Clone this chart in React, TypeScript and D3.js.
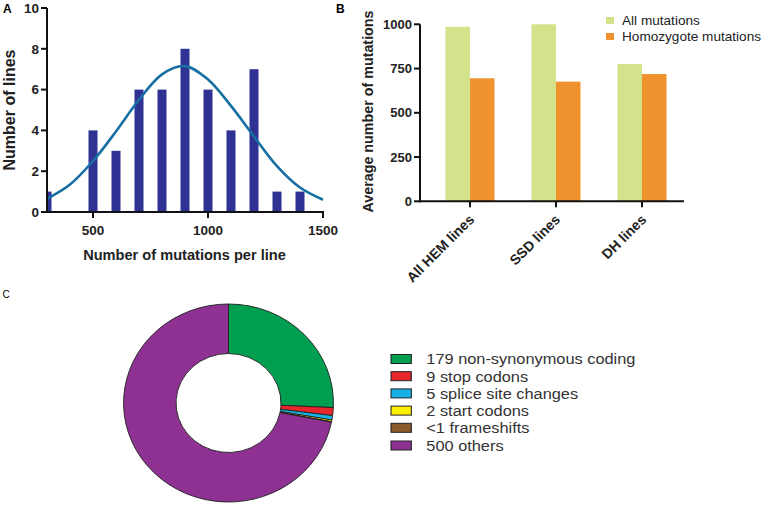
import React from "react";
import * as d3 from "d3";

// ---------- Panel A data ----------
const histBins: number[] = [300, 400, 500, 600, 700, 800, 900, 1000, 1100, 1200, 1300, 1400];
const histCounts: number[] = [1, 0, 4, 3, 6, 6, 8, 6, 4, 7, 1, 1];
const fitX: number[] = [300, 400, 500, 600, 700, 800, 900, 1000, 1100, 1200, 1300, 1400, 1500];
const fitY: number[] = [0.65, 1.35, 2.5, 3.95, 5.5, 6.75, 7.15, 6.5, 5.2, 3.7, 2.25, 1.2, 0.6];
const aYTicks: number[] = [0, 2, 4, 6, 8, 10];
const aXTicks: number[] = [500, 1000, 1500];

// ---------- Panel B data ----------
const bCategories: string[] = ["All HEM lines", "SSD lines", "DH lines"];
const bAllMutations: number[] = [986, 1000, 776];
const bHomozygote: number[] = [695, 676, 719];
const bSeries: string[] = ["All mutations", "Homozygote mutations"];
const bYTicks: number[] = [0, 250, 500, 750, 1000];

// ---------- Panel C data ----------
const cLabels: string[] = [
  "179 non-synonymous coding",
  "9 stop codons",
  "5 splice site changes",
  "2 start codons",
  "<1 frameshifts",
  "500 others",
];
const cValues: number[] = [179, 9, 5, 2, 0.5, 500];
const cColors: string[] = ["#009e4f", "#e8262b", "#17b1e6", "#fff200", "#8b5a2b", "#8e3192"];

const FONT = "Arial, 'Liberation Sans', Helvetica, sans-serif";

function PanelA() {
  const x = d3.scaleLinear().domain([300, 1500]).range([47, 323]);
  const y = d3.scaleLinear().domain([0, 10]).range([212, 8]);
  const barW = 9;
  const line = d3
    .line<number>()
    .x((_, i) => x(fitX[i]))
    .y((d) => y(d))
    .curve(d3.curveCatmullRom);
  return (
    <g>
      <defs>
        <clipPath id="clipA">
          <rect x={x(300)} y={0} width={x(1500) - x(300) + 5} height={y(0)} />
        </clipPath>
      </defs>
      <text x={3} y={13} fontFamily={FONT} fontWeight="bold" fontSize={12}>A</text>
      <g clipPath="url(#clipA)">
        {histBins.map((b, i) =>
          histCounts[i] > 0 ? (
            <rect
              key={b}
              x={x(b) - barW / 2}
              y={y(histCounts[i])}
              width={barW}
              height={y(0) - y(histCounts[i])}
              fill="#2f3193"
            />
          ) : null
        )}
      </g>
      <path d={line(fitY) || ""} fill="none" stroke="#176ea3" strokeWidth={2.6} />
      {/* axes */}
      <line x1={x(300)} x2={x(300)} y1={y(10)} y2={y(0) + 1} stroke="#111" strokeWidth={2} />
      <line x1={x(300) - 1} x2={x(1500) + 1} y1={y(0)} y2={y(0)} stroke="#111" strokeWidth={2} />
      {aYTicks.map((t) => (
        <g key={t}>
          <line x1={x(300) - 6} x2={x(300)} y1={y(t)} y2={y(t)} stroke="#111" strokeWidth={2} />
          <text
            x={x(300) - 8}
            y={y(t)}
            dy="0.36em"
            textAnchor="end"
            fontFamily={FONT}
            fontWeight="bold"
            fontSize={13.5}
            fill="#222"
          >
            {t}
          </text>
        </g>
      ))}
      {aXTicks.map((t) => (
        <g key={t}>
          <line x1={x(t)} x2={x(t)} y1={y(0)} y2={y(0) + 6} stroke="#111" strokeWidth={2} />
          <text
            x={x(t)}
            y={235}
            textAnchor="middle"
            fontFamily={FONT}
            fontWeight="bold"
            fontSize={13.5}
            fill="#222"
          >
            {t}
          </text>
        </g>
      ))}
      <text
        x={184.5}
        y={260}
        textAnchor="middle"
        fontFamily={FONT}
        fontWeight="bold"
        fontSize={14.6}
        fill="#222"
      >
        Number of mutations per line
      </text>
      <text
        transform={`translate(15,110) rotate(-90)`}
        textAnchor="middle"
        fontFamily={FONT}
        fontWeight="bold"
        fontSize={16}
        fill="#222"
      >
        Number of lines
      </text>
    </g>
  );
}

function PanelB() {
  const xb = d3.scaleBand<string>().domain(bCategories).range([427, 685]);
  const y = d3.scaleLinear().domain([0, 1000]).range([201.3, 24.3]);
  const half = 24.5;
  const colors = ["#d3e28b", "#f0932f"];
  return (
    <g>
      <text x={336} y={13} fontFamily={FONT} fontWeight="bold" fontSize={12}>B</text>
      {bCategories.map((c, i) => {
        const cx = (xb(c) || 0) + xb.bandwidth() / 2;
        return (
          <g key={c}>
            <rect x={cx - half} y={y(bAllMutations[i])} width={half} height={y(0) - y(bAllMutations[i])} fill={colors[0]} />
            <rect x={cx} y={y(bHomozygote[i])} width={half} height={y(0) - y(bHomozygote[i])} fill={colors[1]} />
            <line x1={cx} x2={cx} y1={y(0)} y2={y(0) + 6} stroke="#111" strokeWidth={2} />
            <text
              transform={`translate(${cx - 2},${y(0) + 12}) rotate(-45)`}
              textAnchor="end"
              dy="0.72em"
              fontFamily={FONT}
              fontWeight="bold"
              fontSize={14}
              fill="#222"
            >
              {c}
            </text>
          </g>
        );
      })}
      <line x1={420} x2={420} y1={y(1000)} y2={y(0) + 1} stroke="#111" strokeWidth={2} />
      <line x1={419} x2={684} y1={y(0)} y2={y(0)} stroke="#111" strokeWidth={2} />
      {bYTicks.map((t) => (
        <g key={t}>
          <line x1={414} x2={420} y1={y(t)} y2={y(t)} stroke="#111" strokeWidth={2} />
          <text
            x={412}
            y={y(t)}
            dy="0.36em"
            textAnchor="end"
            fontFamily={FONT}
            fontWeight="bold"
            fontSize={13}
            fill="#222"
          >
            {t}
          </text>
        </g>
      ))}
      <text
        transform={`translate(373,111.5) rotate(-90)`}
        textAnchor="middle"
        fontFamily={FONT}
        fontWeight="bold"
        fontSize={14.3}
        fill="#222"
      >
        Average number of mutations
      </text>
      {bSeries.map((s, i) => (
        <g key={s}>
          <rect x={606} y={17 + i * 16} width={8} height={7} fill={colors[i]} />
          <text x={622} y={24.5 + i * 16} fontFamily={FONT} fontSize={13.6} fill="#222">
            {s}
          </text>
        </g>
      ))}
    </g>
  );
}

function PanelC() {
  const pie = d3.pie<number>().sort(null).value((d) => d);
  const arcs = pie(cValues);
  const arc = d3.arc<d3.PieArcDatum<number>>().innerRadius(49.5).outerRadius(99);
  const rowY = [359, 376.2, 393.4, 410.6, 427.8, 445.5];
  return (
    <g>
      <text x={2.5} y={298} fontFamily={FONT} fontSize={10}>C</text>
      <g transform="translate(228.5,403) scale(1.06,1)">
        {arcs.map((a, i) => (
          <path key={i} d={arc(a) || ""} fill={cColors[i]} stroke="#222" strokeWidth={0.9} />
        ))}
      </g>
      <g transform="translate(391,0) scale(1.07,1)">
        {cLabels.map((l, i) => (
          <g key={l}>
            <rect x={0} y={rowY[i] - 4.5} width={19} height={9} fill={cColors[i]} stroke="#222" strokeWidth={1} />
            <text x={33} y={rowY[i] + 5.4} fontFamily={FONT} fontSize={15.3} fill="#333">
              {l}
            </text>
          </g>
        ))}
      </g>
    </g>
  );
}

export default function App() {
  return (
    <svg width={763} height={505} style={{ display: "block", position: "absolute", left: 0, top: 0, background: "#fff" }}>
      <rect width={763} height={505} fill="#fff" />
      <PanelA />
      <PanelB />
      <PanelC />
    </svg>
  );
}
